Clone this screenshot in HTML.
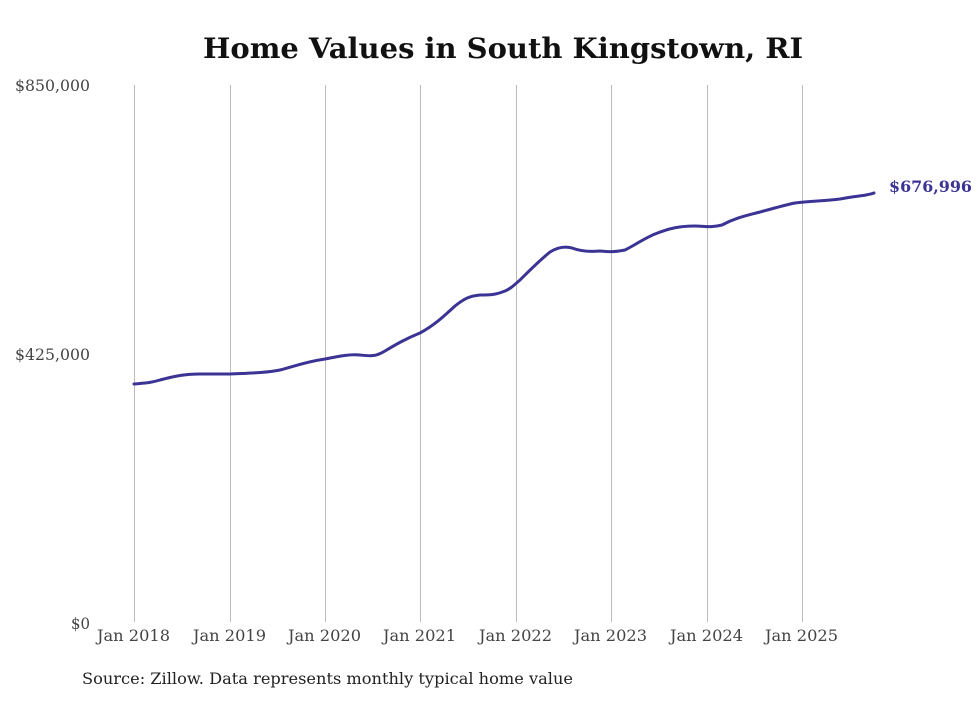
<!DOCTYPE html>
<html><head><meta charset="utf-8"><style>
html,body{margin:0;padding:0;background:#fff;}
</style></head><body>
<svg width="980" height="699" xmlns="http://www.w3.org/2000/svg" font-family="'DejaVu Serif', 'Liberation Serif', serif">
<rect width="980" height="699" fill="#fff"/>
<text x="203" y="58" font-size="28" font-weight="bold" fill="#111" textLength="600" lengthAdjust="spacingAndGlyphs">Home Values in South Kingstown, RI</text>
<g stroke="#bbb" stroke-width="1">
<line x1="134.5" y1="85" x2="134.5" y2="622"/>
<line x1="230.5" y1="85" x2="230.5" y2="622"/>
<line x1="325.5" y1="85" x2="325.5" y2="622"/>
<line x1="420.5" y1="85" x2="420.5" y2="622"/>
<line x1="516.5" y1="85" x2="516.5" y2="622"/>
<line x1="611.5" y1="85" x2="611.5" y2="622"/>
<line x1="707.5" y1="85" x2="707.5" y2="622"/>
<line x1="802.5" y1="85" x2="802.5" y2="622"/>
</g>
<g font-size="16" fill="#444">
<text x="15" y="91" textLength="75" lengthAdjust="spacingAndGlyphs">$850,000</text>
<text x="15" y="360" textLength="75" lengthAdjust="spacingAndGlyphs">$425,000</text>
<text x="71" y="629" textLength="19" lengthAdjust="spacingAndGlyphs">$0</text>
</g>
<g font-size="16" fill="#444">
<text x="97" y="641" textLength="73" lengthAdjust="spacingAndGlyphs">Jan 2018</text>
<text x="193" y="641" textLength="73" lengthAdjust="spacingAndGlyphs">Jan 2019</text>
<text x="288" y="641" textLength="73" lengthAdjust="spacingAndGlyphs">Jan 2020</text>
<text x="383" y="641" textLength="73" lengthAdjust="spacingAndGlyphs">Jan 2021</text>
<text x="479" y="641" textLength="73" lengthAdjust="spacingAndGlyphs">Jan 2022</text>
<text x="574" y="641" textLength="73" lengthAdjust="spacingAndGlyphs">Jan 2023</text>
<text x="670" y="641" textLength="73" lengthAdjust="spacingAndGlyphs">Jan 2024</text>
<text x="765" y="641" textLength="73" lengthAdjust="spacingAndGlyphs">Jan 2025</text>
</g>
<path fill="none" stroke="#3b3494" stroke-width="3" stroke-linejoin="round" stroke-linecap="round"
d="M134,384 C145,383 150,383 160,380 C175,376 185,374 200,374 C215,374 220,374 230,374 C250,373 265,373 280,370 C295,366 305,362 325,359 C340,356 350,354 360,355 C370,356 375,357 385,351 C395,345 405,339 420,333 C435,325 445,315 455,306 C465,298 470,296 480,295 C490,295 495,295 505,291 C512,288 514,285 520,280 C530,270 540,260 550,252 C558,247 565,246 572,248 C580,251 590,252 600,251 C610,252 615,252 625,250 C635,245 645,238 655,234 C670,228 680,226 695,226 C705,226 710,228 722,225 C735,218 745,216 760,212 C775,208 785,205 795,203 C810,201 825,201 840,199 C850,197 860,196 866,195 C870,194 872,194 874,193"/>
<text x="889" y="192" font-size="16" font-weight="bold" fill="#3b3494" textLength="83" lengthAdjust="spacingAndGlyphs">$676,996</text>
<text x="82" y="684" font-size="16" fill="#222" textLength="491" lengthAdjust="spacingAndGlyphs">Source: Zillow. Data represents monthly typical home value</text>
</svg>
</body></html>
